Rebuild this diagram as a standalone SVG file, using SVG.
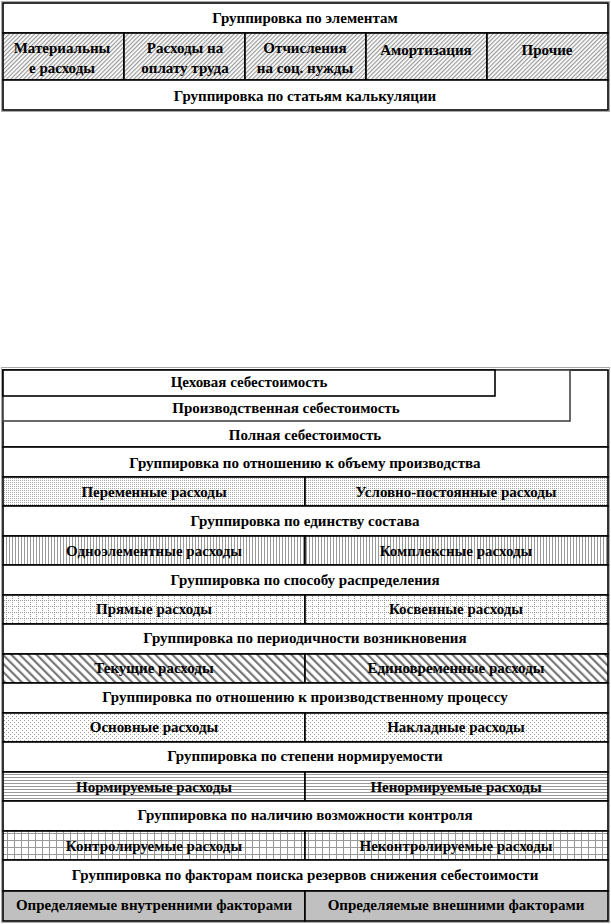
<svg xmlns="http://www.w3.org/2000/svg" width="611" height="924" viewBox="0 0 611 924">
<style>
text{font-family:"Liberation Serif","Times New Roman",serif;font-weight:bold;font-size:15px;fill:#000;text-anchor:middle}
.b{fill:#fff;stroke:#000;stroke-width:1.6}
.outer{fill:none;stroke:#555;stroke-width:1;stroke-dasharray:1 1}
</style>
<defs>
<pattern id="hatchTop" width="3" height="3" patternUnits="userSpaceOnUse" patternTransform="rotate(45)">
<rect width="3" height="3" fill="#fff"/><rect width="1.2" height="3" fill="#999"/>
</pattern>
<pattern id="dots" width="2" height="2" patternUnits="userSpaceOnUse">
<rect width="2" height="2" fill="#fff"/><rect width="1" height="1" fill="#aaa"/>
</pattern>
<pattern id="vstripe" width="3" height="3" patternUnits="userSpaceOnUse">
<rect width="3" height="3" fill="#fff"/><rect width="1" height="3" fill="#999"/>
</pattern>
<pattern id="dotgrid" width="6" height="6" patternUnits="userSpaceOnUse">
<rect width="6" height="6" fill="#fff"/>
<rect x="0" y="0" width="1" height="1" fill="#999"/><rect x="2" y="0" width="1" height="1" fill="#999"/><rect x="4" y="0" width="1" height="1" fill="#999"/>
<rect x="0" y="2" width="1" height="1" fill="#999"/><rect x="0" y="4" width="1" height="1" fill="#999"/>
</pattern>
<pattern id="wdiag" width="6" height="6" patternUnits="userSpaceOnUse" patternTransform="rotate(-45)">
<rect width="6" height="6" fill="#fff"/><rect width="2.2" height="6" fill="#777"/>
</pattern>
<pattern id="sparse" width="4" height="4" patternUnits="userSpaceOnUse">
<rect width="4" height="4" fill="#fff"/><rect x="0" y="0" width="1" height="1" fill="#999"/><rect x="2" y="2" width="1" height="1" fill="#999"/>
</pattern>
<pattern id="hline" width="4" height="3" patternUnits="userSpaceOnUse">
<rect width="4" height="3" fill="#fff"/><rect width="4" height="1" fill="#999"/>
</pattern>
<pattern id="grid" width="7" height="7" patternUnits="userSpaceOnUse">
<rect width="7" height="7" fill="#fff"/><rect width="7" height="1" fill="#999"/><rect width="1" height="7" fill="#999"/>
</pattern>
</defs>

<g id="top-section">
<rect class="outer" x="1.5" y="1.5" width="608" height="110"/>
<g id="t-header"><rect class="b" x="3" y="3" width="605" height="30"/><text x="305" y="23">Группировка по элементам</text></g>
<g id="t-mat"><rect class="b" x="3" y="33" width="121" height="47" style="fill:url(#hatchTop)"/><text x="62" y="53">Материальны</text><text x="62" y="73">е расходы</text></g>
<g id="t-pay"><rect class="b" x="124" y="33" width="121" height="47" style="fill:url(#hatchTop)"/><text x="185" y="53">Расходы на</text><text x="185" y="73">оплату труда</text></g>
<g id="t-soc"><rect class="b" x="245" y="33" width="121" height="47" style="fill:url(#hatchTop)"/><text x="305" y="53">Отчисления</text><text x="305" y="73">на соц. нужды</text></g>
<g id="t-amort"><rect class="b" x="366" y="33" width="121" height="47" style="fill:url(#hatchTop)"/><text x="426" y="55">Амортизация</text></g>
<g id="t-other"><rect class="b" x="487" y="33" width="121" height="47" style="fill:url(#hatchTop)"/><text x="547" y="55">Прочие</text></g>
<g id="t-calc"><rect class="b" x="3" y="80" width="605" height="30"/><text x="305" y="101">Группировка по статьям калькуляции</text></g>
</g>

<g id="bottom-section">
<rect class="outer" x="1.5" y="367.5" width="608" height="555"/>
<g id="full"><rect class="b" x="3" y="370" width="605" height="77"/><text x="305" y="440">Полная себестоимость</text></g>
<g id="prod"><rect class="b" x="3" y="370" width="567" height="51" style="stroke:#444"/><text x="286" y="413">Производственная себестоимость</text></g>
<g id="shop"><rect class="b" x="3" y="370" width="492" height="26"/><text x="249" y="387">Цеховая  себестоимость</text></g>

<g id="g1"><rect class="b" x="3" y="447" width="605" height="30"/><text x="305" y="468">Группировка по отношению к объему производства</text></g>
<g id="g1a"><rect class="b" x="3" y="477" width="302" height="29" style="fill:url(#dots)"/><text x="154" y="497">Переменные расходы</text></g>
<g id="g1b"><rect class="b" x="305" y="477" width="303" height="29" style="fill:url(#dots)"/><text x="456" y="497">Условно-постоянные расходы</text></g>

<g id="g2"><rect class="b" x="3" y="506" width="605" height="30"/><text x="305" y="526">Группировка по единству состава</text></g>
<g id="g2a"><rect class="b" x="3" y="536" width="302" height="29" style="fill:url(#vstripe)"/><text x="154" y="556">Одноэлементные расходы</text></g>
<g id="g2b"><rect class="b" x="305" y="536" width="303" height="29" style="fill:url(#vstripe)"/><text x="456" y="556">Комплексные расходы</text></g>

<g id="g3"><rect class="b" x="3" y="565" width="605" height="30"/><text x="305" y="585">Группировка по способу распределения</text></g>
<g id="g3a"><rect class="b" x="3" y="595" width="302" height="29" style="fill:url(#dotgrid)"/><text x="154" y="614">Прямые расходы</text></g>
<g id="g3b"><rect class="b" x="305" y="595" width="303" height="29" style="fill:url(#dotgrid)"/><text x="456" y="614">Косвенные расходы</text></g>

<g id="g4"><rect class="b" x="3" y="624" width="605" height="30"/><text x="305" y="643">Группировка по периодичности возникновения</text></g>
<g id="g4a"><rect class="b" x="3" y="654" width="302" height="29" style="fill:url(#wdiag)"/><text x="154" y="673">Текущие  расходы</text></g>
<g id="g4b"><rect class="b" x="305" y="654" width="303" height="29" style="fill:url(#wdiag)"/><text x="456" y="673">Единовременные расходы</text></g>

<g id="g5"><rect class="b" x="3" y="683" width="605" height="30"/><text x="305" y="702">Группировка по отношению к производственному процессу</text></g>
<g id="g5a"><rect class="b" x="3" y="713" width="302" height="29" style="fill:url(#sparse)"/><text x="154" y="732">Основные расходы</text></g>
<g id="g5b"><rect class="b" x="305" y="713" width="303" height="29" style="fill:url(#sparse)"/><text x="456" y="732">Накладные расходы</text></g>

<g id="g6"><rect class="b" x="3" y="742" width="605" height="30"/><text x="305" y="761">Группировка по степени нормируемости</text></g>
<g id="g6a"><rect class="b" x="3" y="772" width="302" height="29" style="fill:url(#hline)"/><text x="154" y="792">Нормируемые расходы</text></g>
<g id="g6b"><rect class="b" x="305" y="772" width="303" height="29" style="fill:url(#hline)"/><text x="456" y="792">Ненормируемые расходы</text></g>

<g id="g7"><rect class="b" x="3" y="801" width="605" height="30"/><text x="305" y="820">Группировка по наличию возможности контроля</text></g>
<g id="g7a"><rect class="b" x="3" y="831" width="302" height="29" style="fill:url(#grid)"/><text x="154" y="851">Контролируемые расходы</text></g>
<g id="g7b"><rect class="b" x="305" y="831" width="303" height="29" style="fill:url(#grid)"/><text x="456" y="851">Неконтролируемые  расходы</text></g>

<g id="g8"><rect class="b" x="3" y="860" width="605" height="31"/><text x="305" y="880">Группировка по факторам  поиска  резервов  снижения  себестоимости</text></g>
<g id="g8a"><rect class="b" x="3" y="891" width="302" height="30" style="fill:#c0c0c0"/><text x="154" y="910">Определяемые внутренними факторами</text></g>
<g id="g8b"><rect class="b" x="305" y="891" width="303" height="30" style="fill:#c0c0c0"/><text x="456" y="910">Определяемые внешними факторами</text></g>
</g>
</svg>
